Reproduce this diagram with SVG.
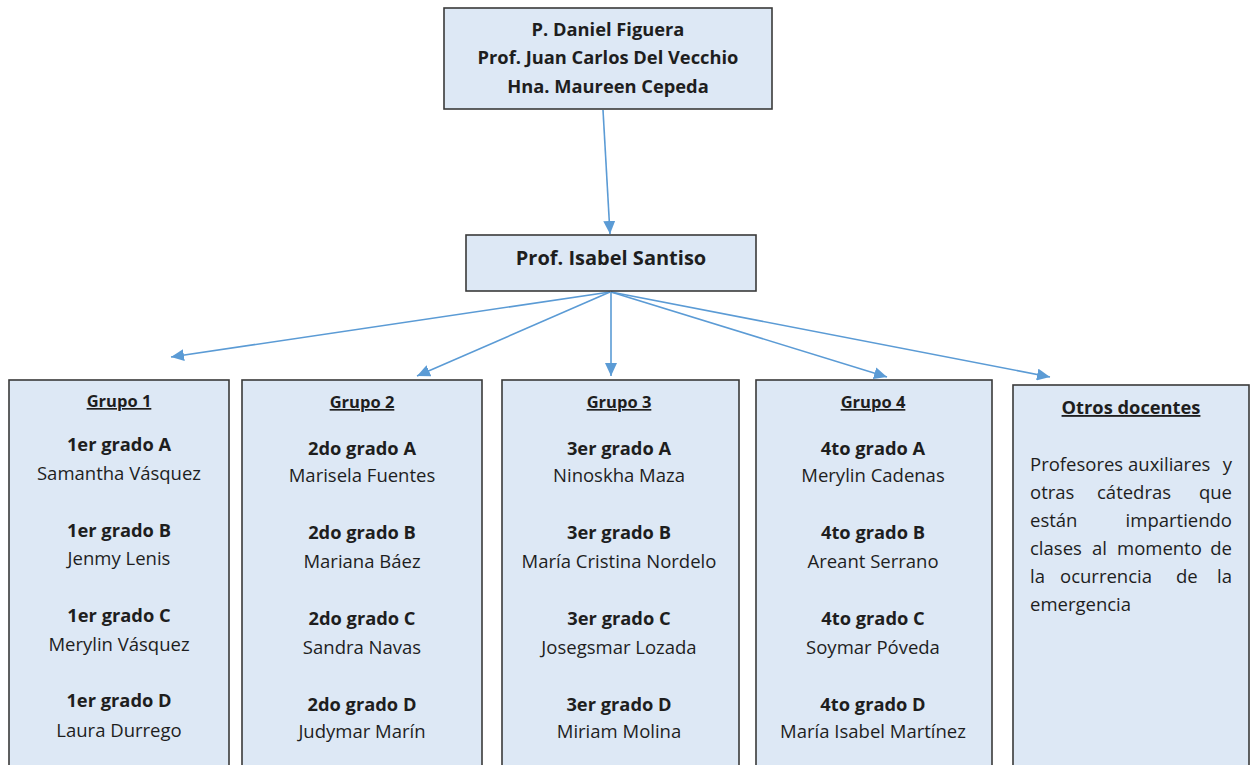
<svg xmlns="http://www.w3.org/2000/svg" width="1251" height="765" viewBox="0 0 1251 765">
<style>
.box{fill:#dde8f5;stroke:#3a3a3a;stroke-width:1.6}
text{font-family:"Open Sans","Noto Sans","Liberation Sans",sans-serif;fill:#1e1e1e;font-size:18.5px}
.b{font-weight:bold;font-size:18.3px}
.c{text-anchor:middle}
.h{font-weight:bold;text-decoration:underline;font-size:16.5px}
.e{text-anchor:end}
.con{stroke:#5b9bd5;stroke-width:1.6;fill:none;marker-end:url(#ah)}
</style>
<defs>
<marker id="ah" markerUnits="userSpaceOnUse" markerWidth="14" markerHeight="12" refX="13" refY="6" orient="auto">
<path d="M0,0 L13,6 L0,12 Z" fill="#5b9bd5"/>
</marker>
</defs>
<g id="connectors">
<line class="con" x1="603" y1="110" x2="610" y2="234"/>
<line class="con" x1="610" y1="292" x2="171" y2="357"/>
<line class="con" x1="610" y1="292" x2="417" y2="376"/>
<line class="con" x1="611" y1="292" x2="611" y2="376"/>
<line class="con" x1="611" y1="292" x2="887" y2="377"/>
<line class="con" x1="611" y1="292" x2="1050" y2="377"/>
</g>
<g id="top">
<rect class="box" x="444" y="8" width="328" height="101"/>
<text class="b c" x="608" y="36">P. Daniel Figuera</text>
<text class="b c" x="608" y="64">Prof. Juan Carlos Del Vecchio</text>
<text class="b c" x="608" y="93">Hna. Maureen Cepeda</text>
</g>
<g id="santiso">
<rect class="box" x="466" y="235" width="290" height="56"/>
<text class="b c" x="611" y="265" style="font-size:20px">Prof. Isabel Santiso</text>
</g>
<g id="grupo1">
<rect class="box" x="9" y="380" width="220" height="400"/>
<text class="h c" x="119" y="407">Grupo 1</text>
<text class="b c" x="119" y="451">1er grado A</text>
<text class="c" x="119" y="480">Samantha Vásquez</text>
<text class="b c" x="119" y="537">1er grado B</text>
<text class="c" x="119" y="565">Jenmy Lenis</text>
<text class="b c" x="119" y="622">1er grado C</text>
<text class="c" x="119" y="651">Merylin Vásquez</text>
<text class="b c" x="119" y="707">1er grado D</text>
<text class="c" x="119" y="737">Laura Durrego</text>
</g>
<g id="grupo2">
<rect class="box" x="242" y="380" width="240" height="400"/>
<text class="h c" x="362" y="408">Grupo 2</text>
<text class="b c" x="362" y="455">2do grado A</text>
<text class="c" x="362" y="482">Marisela Fuentes</text>
<text class="b c" x="362" y="539">2do grado B</text>
<text class="c" x="362" y="568">Mariana Báez</text>
<text class="b c" x="362" y="625">2do grado C</text>
<text class="c" x="362" y="654">Sandra Navas</text>
<text class="b c" x="362" y="711">2do grado D</text>
<text class="c" x="362" y="738">Judymar Marín</text>
</g>
<g id="grupo3">
<rect class="box" x="502" y="380" width="237" height="400"/>
<text class="h c" x="619" y="408">Grupo 3</text>
<text class="b c" x="619" y="455">3er grado A</text>
<text class="c" x="619" y="482">Ninoskha Maza</text>
<text class="b c" x="619" y="539">3er grado B</text>
<text class="c" x="619" y="568">María Cristina Nordelo</text>
<text class="b c" x="619" y="625">3er grado C</text>
<text class="c" x="619" y="654">Josegsmar Lozada</text>
<text class="b c" x="619" y="711">3er grado D</text>
<text class="c" x="619" y="738">Miriam Molina</text>
</g>
<g id="grupo4">
<rect class="box" x="756" y="380" width="236" height="400"/>
<text class="h c" x="873" y="408">Grupo 4</text>
<text class="b c" x="873" y="455">4to grado A</text>
<text class="c" x="873" y="482">Merylin Cadenas</text>
<text class="b c" x="873" y="539">4to grado B</text>
<text class="c" x="873" y="568">Areant Serrano</text>
<text class="b c" x="873" y="625">4to grado C</text>
<text class="c" x="873" y="654">Soymar Póveda</text>
<text class="b c" x="873" y="711">4to grado D</text>
<text class="c" x="873" y="738">María Isabel Martínez</text>
</g>
<g id="otros">
<rect class="box" x="1013" y="385" width="236" height="400"/>
<text class="h c" x="1131" y="414" style="font-size:18.3px">Otros docentes</text>
<text x="1030" y="471">Profesores</text><text x="1128" y="471">auxiliares</text><text class="e" x="1232" y="471">y</text>
<text x="1030" y="499">otras</text><text x="1097" y="499">cátedras</text><text class="e" x="1232" y="499">que</text>
<text x="1030" y="527">están</text><text class="e" x="1232" y="527">impartiendo</text>
<text x="1030" y="555">clases</text><text x="1092" y="555">al</text><text x="1117" y="555">momento</text><text class="e" x="1232" y="555">de</text>
<text x="1030" y="583">la</text><text x="1060" y="583">ocurrencia</text><text x="1176" y="583">de</text><text class="e" x="1232" y="583">la</text>
<text x="1030" y="611">emergencia</text>
</g>
</svg>
